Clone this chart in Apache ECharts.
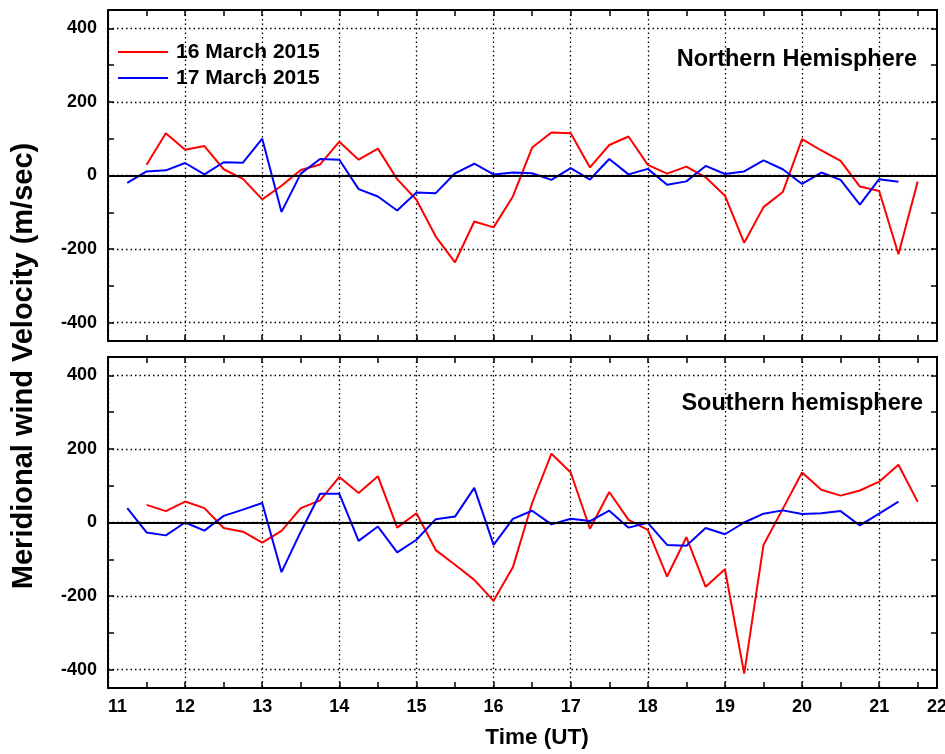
<!DOCTYPE html>
<html>
<head>
<meta charset="utf-8">
<title>Meridional wind velocity</title>
<script src="https://cdn.jsdelivr.net/npm/echarts@6/dist/echarts.min.js"></script>
<style>
html, body { margin: 0; padding: 0; background: #fff; }
#chart { width: 945px; height: 754px; }
</style>
</head>
<body>
<div id="chart"></div>
<script>
// time (UT) of each sample, one every quarter hour
const times16 = [11.5, 11.75, 12, 12.25, 12.5, 12.75, 13, 13.25, 13.5, 13.75,
  14, 14.25, 14.5, 14.75, 15, 15.25, 15.5, 15.75, 16, 16.25,
  16.5, 16.75, 17, 17.25, 17.5, 17.75, 18, 18.25, 18.5, 18.75,
  19, 19.25, 19.5, 19.75, 20, 20.25, 20.5, 20.75, 21, 21.25, 21.5]
const times17 = [11.25, 11.5, 11.75, 12, 12.25, 12.5, 12.75, 13, 13.25, 13.5,
  13.75, 14, 14.25, 14.5, 14.75, 15, 15.25, 15.5, 15.75, 16,
  16.25, 16.5, 16.75, 17, 17.25, 17.5, 17.75, 18, 18.25, 18.5,
  18.75, 19, 19.25, 19.5, 19.75, 20, 20.25, 20.5, 20.75, 21, 21.25]

// Northern hemisphere (m/sec)
const north16 = [29, 115, 70, 80, 17, -9, -65, -28, 15, 30,
  92, 43, 73, -10, -66, -166, -236, -125, -141, -57,
  76, 117, 115, 22, 83, 106, 29, 5, 24, -5,
  -55, -183, -86, -45, 99, 68, 40, -30, -42, -214, -16]
const north17 = [-20, 11, 14, 34, 3, 36, 35, 100, -99, 5,
  45, 43, -37, -57, -95, -46, -48, 6, 32, 3,
  8, 6, -12, 20, -11, 45, 3, 18, -25, -16,
  26, 4, 11, 41, 17, -23, 8, -12, -79, -10, -17]

// Southern hemisphere (m/sec)
const south16 = [48, 31, 57, 39, -15, -25, -55, -23, 39, 60,
  124, 80, 126, -14, 25, -75, -115, -156, -213, -122,
  53, 187, 136, -17, 83, 7, -20, -147, -40, -175,
  -127, -411, -61, 37, 136, 89, 73, 87, 111, 157, 56]
const south17 = [39, -27, -35, 0, -22, 18, 35, 53, -135, -25,
  78, 78, -50, -11, -81, -47, 9, 16, 94, -61,
  10, 32, -5, 10, 4, 32, -14, -1, -61, -63,
  -15, -32, 0, 24, 33, 23, 25, 31, -8, 24, 57]

const xTickLabels = ['11', '12', '13', '14', '15', '16', '17', '18', '19', '20', '21', '22']
const yTickValues = [-400, -300, -200, -100, 0, 100, 200, 300, 400]
const yLabelValues = [-400, -200, 0, 200, 400]

const X_MIN = 11
const X_MAX = 21.75
const Y_MIN = -450
const Y_MAX = 450
const FONT = 'Liberation Sans, Arial, Helvetica, sans-serif'

const pairs = (xs, ys) => xs.map((x, i) => [x, ys[i]])

// ticks every half hour
const halfHours = []
for (let t = X_MIN; t <= X_MAX; t += 0.5) halfHours.push(t)

const tickStyle = { color: '#000', width: 1.5 }
// split lines follow the ticks: every other one is hidden
const gridDots = { color: ['#000', 'rgba(0,0,0,0)'], type: [1.5, 3], width: 1.3 }

const makeX = (gridIndex, position, showLabel) => ({
  type: 'value',
  gridIndex,
  position,
  min: X_MIN,
  max: X_MAX,
  interval: 1,
  axisLine: { show: true, onZero: false, lineStyle: { color: '#000', width: 2 } },
  axisTick: { show: true, inside: true, length: 6, customValues: halfHours, lineStyle: tickStyle },
  axisLabel: {
    show: showLabel,
    margin: 10,
    color: '#000',
    fontFamily: FONT,
    fontSize: 18,
    fontWeight: 'bold',
    alignMinLabel: 'left',
    formatter: v => v === X_MAX ? xTickLabels[xTickLabels.length - 1] : xTickLabels[Math.round(v - X_MIN)]
  },
  splitLine: { show: position === 'bottom', lineStyle: gridDots }
})

const makeY = (gridIndex, position, showLabel) => ({
  type: 'value',
  gridIndex,
  position,
  min: Y_MIN,
  max: Y_MAX,
  axisLine: { show: true, onZero: false, lineStyle: { color: '#000', width: 2 } },
  axisTick: { show: true, inside: true, length: 6, customValues: yTickValues, lineStyle: tickStyle },
  axisLabel: {
    show: showLabel,
    customValues: yLabelValues,
    margin: 11,
    color: '#000',
    fontFamily: FONT,
    fontSize: 18,
    fontWeight: 'bold'
  },
  splitLine: { show: position === 'left', lineStyle: gridDots }
})

// solid black line at zero
const zeroLine = {
  silent: true,
  symbol: 'none',
  label: { show: false },
  lineStyle: { color: '#000', type: 'solid', width: 2 },
  data: [{ yAxis: 0 }]
}

const makeLine = (name, color, axisIndex, data, withZero) => ({
  name,
  type: 'line',
  xAxisIndex: axisIndex,
  yAxisIndex: axisIndex,
  symbol: 'none',
  data,
  lineStyle: { color, width: 2 },
  itemStyle: { color },
  markLine: withZero ? zeroLine : undefined,
  z: 3
})

const textEl = (text, x, y, size, align, rotation) => ({
  type: 'text',
  x,
  y,
  rotation: rotation || 0,
  style: {
    text,
    fill: '#000',
    font: 'bold ' + size + 'px ' + FONT,
    align,
    verticalAlign: 'middle'
  }
})

const chart = echarts.init(document.getElementById('chart'))
chart.setOption({
  animation: false,
  backgroundColor: '#fff',
  grid: [
    { left: 108, top: 10, right: 8, height: 331, outerBoundsMode: 'none' },
    { left: 108, top: 357, right: 8, height: 331, outerBoundsMode: 'none' }
  ],
  xAxis: [
    makeX(0, 'bottom', false),
    makeX(0, 'top', false),
    makeX(1, 'bottom', true),
    makeX(1, 'top', false)
  ],
  yAxis: [
    makeY(0, 'left', true),
    makeY(0, 'right', false),
    makeY(1, 'left', true),
    makeY(1, 'right', false)
  ],
  legend: {
    left: 118,
    top: 41,
    padding: 0,
    orient: 'vertical',
    icon: 'rect',
    itemWidth: 50,
    itemHeight: 2,
    itemGap: 4,
    textStyle: { color: '#000', fontFamily: FONT, fontSize: 21, fontWeight: 'bold', lineHeight: 22, padding: [0, 0, 0, 3] },
    data: ['16 March 2015', '17 March 2015']
  },
  graphic: [
    textEl('Meridional wind Velocity (m/sec)', 24, 366, 29, 'center', Math.PI / 2),
    textEl('Time (UT)', 537, 738, 22.5, 'center'),
    textEl('Northern Hemisphere', 917, 60, 23.5, 'right'),
    textEl('Southern hemisphere', 923, 404, 23.5, 'right')
  ],
  series: [
    makeLine('16 March 2015', '#ff0000', 0, pairs(times16, north16), true),
    makeLine('17 March 2015', '#0000ff', 0, pairs(times17, north17), false),
    makeLine('16 March 2015', '#ff0000', 2, pairs(times16, south16), true),
    makeLine('17 March 2015', '#0000ff', 2, pairs(times17, south17), false)
  ]
})
</script>
</body>
</html>
